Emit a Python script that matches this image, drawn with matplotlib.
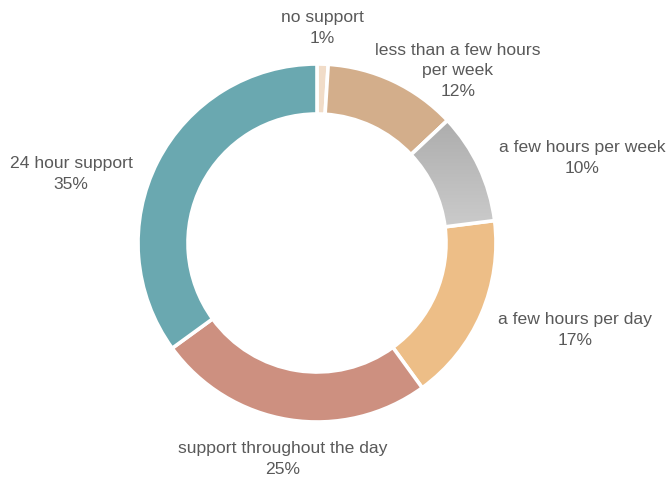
import numpy as np
import matplotlib
matplotlib.use("Agg")
import matplotlib.pyplot as plt
from matplotlib.colors import LinearSegmentedColormap
from matplotlib.patches import PathPatch

labels = ["no support", "less than a few hours\nper week", "a few hours per week",
          "a few hours per day", "support throughout the day", "24 hour support"]
values = [1, 12, 10, 17, 25, 35]
colors = ["#f1dcc8", "#d3ae8b", "#c4c4c4", "#edbe87", "#cd9080", "#6aa8b0"]

# label anchor positions in pixel coordinates (layout only)
label_pos = [(322, 28), (458, 71), (582, 158), (575, 330), (283, 459), (71, 174)]

W, H = 666, 480
fig = plt.figure(figsize=(W / 100, H / 100), dpi=100)
ax = fig.add_axes([0, 0, 1, 1])

cx, cy = 317, H - 243
R = 179
wedges, _ = ax.pie(values, colors=colors, startangle=90, counterclock=False,
                   radius=R, center=(cx, cy), frame=True,
                   wedgeprops=dict(width=50, edgecolor="white", linewidth=2.6))

# gradient on the grey slice
gw = wedges[2]
grad = np.linspace(0, 1, 256).reshape(-1, 1)
cmap = LinearSegmentedColormap.from_list("g", ["#cbcbcb", "#adadad"])
bb = gw.get_path().get_extents(gw.get_patch_transform())
im = ax.imshow(grad, cmap=cmap, extent=[bb.x0, bb.x1, bb.y0, bb.y1],
               origin="lower", aspect="auto", zorder=gw.get_zorder() + 0.1)
im.set_clip_path(gw)
ax.add_patch(PathPatch(gw.get_path(), transform=gw.get_transform(), facecolor="none",
                       edgecolor="white", linewidth=2.6, zorder=gw.get_zorder() + 0.2))

ax.set_xlim(0, W)
ax.set_ylim(0, H)
ax.set_aspect("equal")
ax.axis("off")

for lab, v, (px, py) in zip(labels, values, label_pos):
    ax.text(px, H - py, f"{lab}\n{v}%", ha="center", va="center",
            fontsize=12.6, color="#595959", family="Liberation Sans",
            linespacing=1.42)

fig.savefig("out.png", dpi=100)
